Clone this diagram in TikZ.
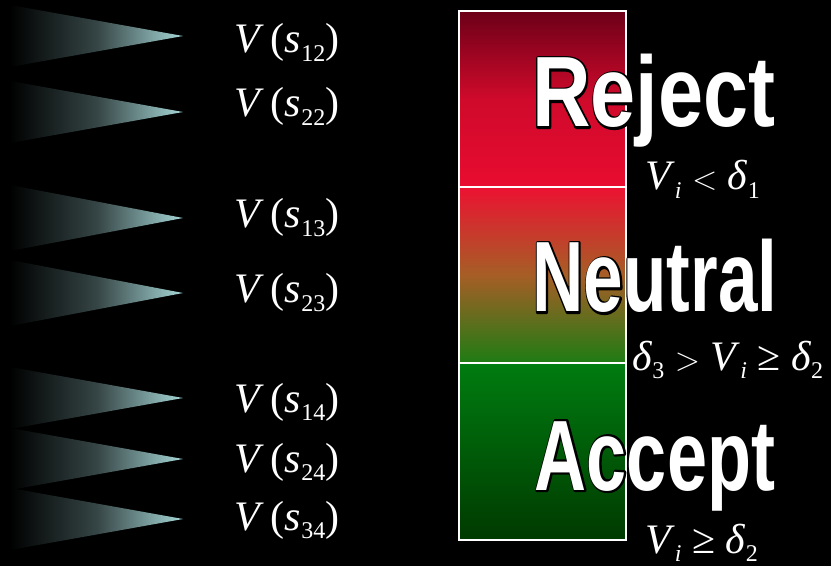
\documentclass[tikz,border=0pt]{standalone}
\usepackage{fontspec}
\setmainfont{Liberation Serif}
\newfontfamily\WordFont{Liberation Sans}
\usetikzlibrary{positioning}
\definecolor{Tip}{HTML}{A6D6D6}
\definecolor{RejTop}{HTML}{6C0018}
\definecolor{RejBot}{HTML}{E80C30}
\definecolor{NeuTop}{HTML}{EC1232}
\definecolor{NeuMid}{HTML}{A65E26}
\definecolor{NeuBot}{HTML}{1E7C14}
\definecolor{AccTop}{HTML}{007C10}
\definecolor{AccBot}{HTML}{003A00}
\newcommand{\Sub}[1]{\raisebox{-0.2em}{\fontsize{18}{18}\selectfont #1}}
\newcommand{\Vs}[1]{\textit{V}\,(\textit{s}\Sub{#1})}
\newcommand{\Outlined}[1]{\rlap{\special{pdf:literal direct 0 G 3.2 w 1 j 2 Tr}#1\special{pdf:literal direct 0 Tr}}#1}
\newcommand{\Word}[5]{%
  \node[anchor=base,inner sep=0pt,text=white,font=\WordFont\bfseries\fontsize{75}{75}\selectfont] (#1) at (#2,#3) {\scalebox{#4}[1]{\Outlined{#5}}};%
}

\begin{document}
\begin{tikzpicture}[x=0.75pt,y=-0.75pt]
\useasboundingbox (0,0) rectangle (831,566);
\fill[black] (0,0) rectangle (831,566);
\foreach \t/\h/\b/\s in {36/31/53/12,112/31/117/22,218/33/228/13,293/33/303/23,398/31/412/14,459/31/472/24,519/31/530/34} {
  \shade[left color=black,right color=Tip,middle color=Tip!32!black] (10,\t-\h) -- (183,\t) -- (10,\t+\h) -- cycle;
  \node[anchor=base west,inner sep=0pt,text=white,font=\fontsize{31.5}{31.5}\selectfont] (v\s) at (234,\b) {\Vs{\s}};
}
\shade[top color=RejTop,bottom color=RejBot,middle color=RejBot!80!RejTop] (459,11) rectangle (626,187);
\shade[top color=NeuTop,bottom color=NeuBot,middle color=NeuMid] (459,187) rectangle (626,363);
\shade[top color=AccTop,bottom color=AccBot] (459,363) rectangle (626,540);
\draw[white,line width=1.5pt] (459,187) -- (626,187) (459,363) -- (626,363);
\draw[white,line width=1.2pt] (459,11) rectangle (626,540);
\Word{reject}{654}{127}{0.81}{Reject}
\Word{neutral}{655}{312}{0.71}{Neutral}
\Word{accept}{655}{490}{0.72}{Accept}
\begin{scope}[every node/.style={anchor=base west,inner sep=0pt,text=white,font=\fontsize{31.5}{31.5}\selectfont}]
\node (c1) at (645,190) {\textit{V}\Sub{\textit{i}} $<$ \textit{δ}\Sub{1}};
\node (c2) at (632,370) {\textit{δ}\Sub{3} $>$ \textit{V}\Sub{\textit{i}} ≥ \textit{δ}\Sub{2}};
\node (c3) at (645,553) {\textit{V}\Sub{\textit{i}} ≥ \textit{δ}\Sub{2}};
\end{scope}
\end{tikzpicture}
\end{document}
